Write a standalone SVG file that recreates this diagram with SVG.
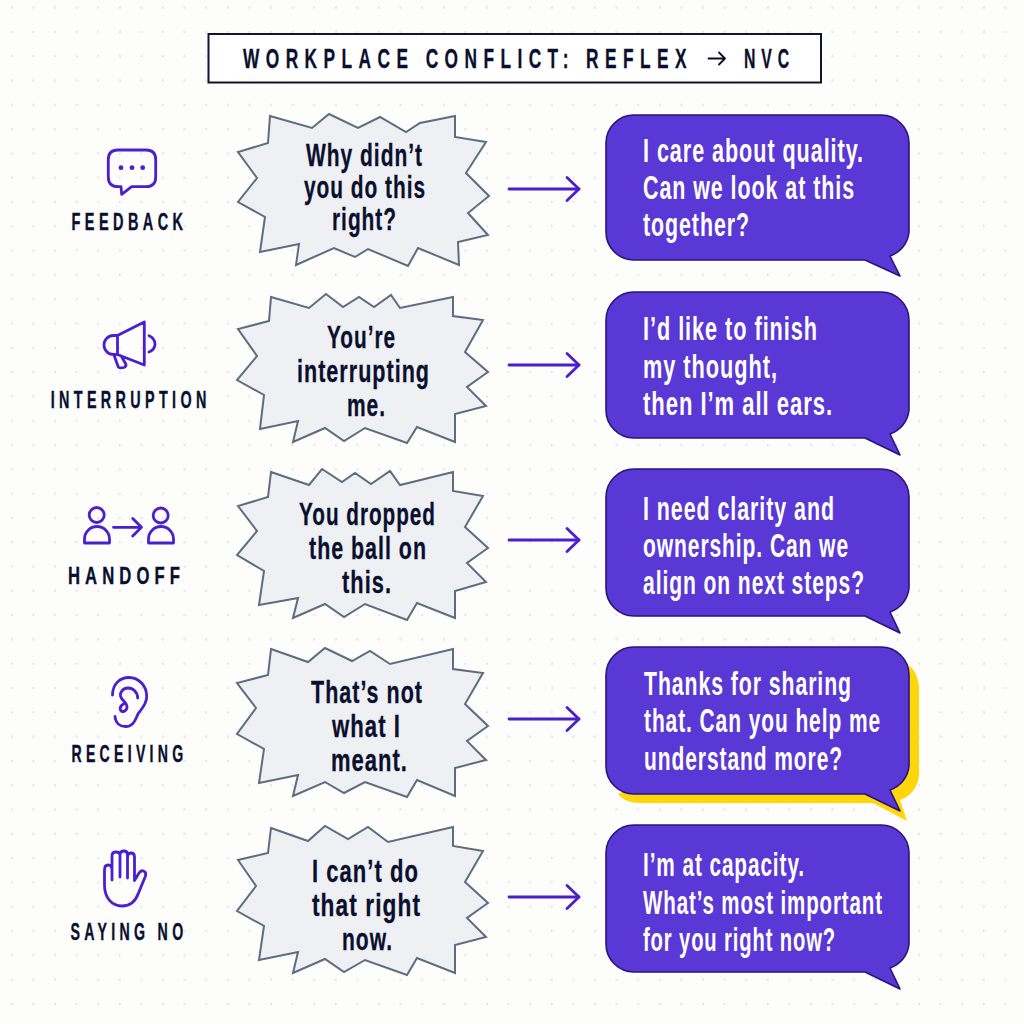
<svg xmlns="http://www.w3.org/2000/svg" width="1024" height="1024" viewBox="0 0 1024 1024">
<style>
text{font-family:"Liberation Sans Narrow","Liberation Sans",Arial,sans-serif;font-weight:700}
.burst{fill:#eef0f4;stroke:#5f6b80;stroke-width:2;stroke-linejoin:miter}
.bt{font-size:32px;fill:#0b0f2e;letter-spacing:1.5px;stroke:#0b0f2e;stroke-width:.3}
.bubble{fill:#5a38d6;stroke:#27147a;stroke-width:1.6;stroke-linejoin:round}
.shadow{fill:#ffd60a}
.st{font-size:34px;fill:#fff;letter-spacing:1.5px}
.lab{font-size:23px;fill:#0b0f2e;letter-spacing:7px;stroke:#0b0f2e;stroke-width:.35}
.tt{font-size:27px;fill:#0b0f2e;letter-spacing:10px;stroke:#0b0f2e;stroke-width:.3}
.ic{fill:none;stroke:#4a1fd0;stroke-width:2.8;stroke-linecap:round;stroke-linejoin:round}
.arr{fill:none;stroke:#4a1fd0;stroke-width:2.8;stroke-linecap:round;marker-end:url(#head)}
</style>
<defs>
<pattern id="dots" x="11.8" y="7.6" width="21.6" height="24.3" patternUnits="userSpaceOnUse"><circle cx="0" cy="0" r="1.2" fill="#e6e6ec"/><circle cx="21.6" cy="0" r="1.2" fill="#e6e6ec"/><circle cx="0" cy="24.3" r="1.2" fill="#e6e6ec"/><circle cx="21.6" cy="24.3" r="1.2" fill="#e6e6ec"/></pattern>
<marker id="head" markerUnits="userSpaceOnUse" markerWidth="18" markerHeight="30" refX="14" refY="14" orient="auto" overflow="visible"><path d="M2 2.500 L14 14 L2 25.500" fill="none" stroke="#4a1fd0" stroke-width="2.8" stroke-linecap="round" stroke-linejoin="round"/></marker>
</defs>
<rect width="1024" height="1024" fill="#fdfdfc"/>
<rect width="1024" height="1024" fill="url(#dots)"/>
<g id="title">
<rect x="208.500" y="34" width="612.500" height="48.500" fill="#fff" stroke="#12142e" stroke-width="2"/>
<text class="tt" x="243" y="68" textLength="450" lengthAdjust="spacingAndGlyphs">WORKPLACE CONFLICT: REFLEX</text>
<path d="M708.500 58.500H725M719 52.500L725 58.500L719 64.500" fill="none" stroke="#0b0f2e" stroke-width="1.800" stroke-linecap="round" stroke-linejoin="round"/>
<text class="tt" x="744" y="68" textLength="51" lengthAdjust="spacingAndGlyphs">NVC</text>
</g>
<g id="connectors">
<path class="arr" d="M509 189H579"/>
<path class="arr" d="M509 365H579"/>
<path class="arr" d="M509 540H579"/>
<path class="arr" d="M509 719H579"/>
<path class="arr" d="M509 897H579"/>
</g>
<g id="row-feedback-label">
<path class="ic" d="M118 150H146Q155.700 150 155.700 159.500V177Q155.700 186.700 146 186.700H131.700L121.700 194.300L121 186.700H118Q108.300 186.700 108.300 177V159.500Q108.300 150 118 150Z"/>
<circle cx="121" cy="167.700" r="2.400" fill="#4a1fd0"/><circle cx="132" cy="167.700" r="2.400" fill="#4a1fd0"/><circle cx="142.700" cy="167.700" r="2.400" fill="#4a1fd0"/>
<text class="lab" x="71.500" y="230" textLength="116" lengthAdjust="spacingAndGlyphs">FEEDBACK</text>
</g>
<g id="row-interruption-label">
<path class="ic" d="M144.300 322L117.500 335.500H113.500A9.300 9.300 0 0 0 113.500 354.500H117.500L144.300 365ZM117.500 335.500V354.500M114 355L118.300 367Q120 368.500 124 367.500Q126.500 366.500 125.800 364L121.500 356.500M149 335.700Q155 338.500 155 344Q155 349.500 149 352"/>
<text class="lab" x="50.700" y="408" textLength="160" lengthAdjust="spacingAndGlyphs">INTERRUPTION</text>
</g>
<g id="row-handoff-label">
<circle class="ic" cx="96.700" cy="515" r="7.500"/>
<path class="ic" d="M84.500 543V539A12.500 12.500 0 0 1 109.500 539V543Z"/>
<path class="ic" d="M113.500 527.300H141.500M132.700 518.500L141.500 527.300L132.700 536"/>
<circle class="ic" cx="160.700" cy="515.500" r="7.500"/>
<path class="ic" d="M148.500 543V539A12.500 12.500 0 0 1 173.500 539V543Z"/>
<text class="lab" x="68" y="584" textLength="117" lengthAdjust="spacingAndGlyphs">HANDOFF</text>
</g>
<g id="row-receiving-label">
<path class="ic" d="M112.500 695C112.500 684 120 677.500 129 677.500C139 677.500 146.700 686 146.700 696.500C146.700 705 141 709 138 714C135.500 719 134 726.500 125.500 726.500C120 726.500 115.500 723 115 716.500"/>
<path class="ic" d="M137.700 698C137.500 692 133 688 128 688C123 688 120 692 120.500 696C121 700 127 702 127 707C127 711 122 713 120.500 710C119 707 122.500 704 125.500 703"/>
<text class="lab" x="71.500" y="762" textLength="116" lengthAdjust="spacingAndGlyphs">RECEIVING</text>
</g>
<g id="row-saying-no-label">
<path class="ic" d="M112 880V870Q112 865 108.300 865Q104.500 865 104.500 870V885C104.500 898 112 906 122 906C131 906 136 900 138.500 893L145.500 876Q146.500 872 143.500 871Q141 870 139 873L134.500 880.500V857Q134.500 853 131 853Q127.500 853 127.500 857V878M127.500 857V855Q127.500 851 124 851Q120 851 120 855V877M120 855Q120 852 116 852Q112 852 112 856V870"/>
<text class="lab" x="70.500" y="940" textLength="117" lengthAdjust="spacingAndGlyphs">SAYING NO</text>
</g>
<g id="reflex-feedback">
<path class="burst" d="M270 116L312 128L329 114L358 128L380 117L406 132L420 123L455 116L455 137L486 142L466 173L489 196L468 213L488 235L458 242L459 265L418 248L408 266L368 249L355 257L334 248L296 265L299 244L260 252L265 217L238 202L257 178L238 152L268 143Z"/>
<text class="bt" x="306" y="166" textLength="117" lengthAdjust="spacingAndGlyphs">Why didn’t</text>
<text class="bt" x="304" y="198" textLength="122" lengthAdjust="spacingAndGlyphs">you do this</text>
<text class="bt" x="332" y="230" textLength="65" lengthAdjust="spacingAndGlyphs">right?</text>
</g>
<g id="reflex-interruption">
<path class="burst" d="M271 297L309 308L326 294L343 307L359 297L374 307L391 295L400 308L453 297L453 316L483 320L465 352L488 372L467 387L486 406L455 414L455 442L417 427L407 443L365 428L344 441L325 428L293 442L298 421L260 429L264 395L237 380L257 356L238 329L269 321Z"/>
<text class="bt" x="327" y="348" textLength="69" lengthAdjust="spacingAndGlyphs">You’re</text>
<text class="bt" x="297" y="382" textLength="133" lengthAdjust="spacingAndGlyphs">interrupting</text>
<text class="bt" x="347" y="416" textLength="39" lengthAdjust="spacingAndGlyphs">me.</text>
</g>
<g id="reflex-handoff">
<path class="burst" d="M271 472L309 485L322 469L342 482L355 473L371 484L390 471L400 485L453 472L453 491L483 496L465 527L488 548L467 563L486 582L455 591L455 618L417 603L407 620L365 604L344 617L325 604L293 618L298 598L259 605L264 571L237 555L257 531L238 506L268 497Z"/>
<text class="bt" x="299" y="525" textLength="137" lengthAdjust="spacingAndGlyphs">You dropped</text>
<text class="bt" x="309" y="559" textLength="118" lengthAdjust="spacingAndGlyphs">the ball on</text>
<text class="bt" x="342" y="593" textLength="50" lengthAdjust="spacingAndGlyphs">this.</text>
</g>
<g id="reflex-receiving">
<path class="burst" d="M271 649L308 662L325 648L352 661L370 651L390 664L453 649L453 669L483 673L465 704L488 726L467 741L486 760L455 768L455 796L417 780L407 797L365 782L344 793L325 782L293 796L298 775L259 783L264 749L237 734L256 708L237 683L268 675Z"/>
<text class="bt" x="311" y="703" textLength="112" lengthAdjust="spacingAndGlyphs">That’s not</text>
<text class="bt" x="332" y="737" textLength="69" lengthAdjust="spacingAndGlyphs">what I</text>
<text class="bt" x="331" y="771" textLength="77" lengthAdjust="spacingAndGlyphs">meant.</text>
</g>
<g id="reflex-saying-no">
<path class="burst" d="M271 828L308 841L325 826L348 839L368 827L388 842L453 827L453 846L483 851L465 882L488 903L467 918L486 937L455 945L455 973L417 958L407 975L365 960L344 972L325 959L293 973L298 952L259 960L264 926L237 911L256 886L238 860L268 853Z"/>
<text class="bt" x="312" y="882" textLength="107" lengthAdjust="spacingAndGlyphs">I can’t do</text>
<text class="bt" x="312" y="916" textLength="109" lengthAdjust="spacingAndGlyphs">that right</text>
<text class="bt" x="342" y="950" textLength="51" lengthAdjust="spacingAndGlyphs">now.</text>
</g>
<g id="nvc-feedback">
<path class="bubble" d="M634 115H881A28 28 0 0 1 909 143V232A28 28 0 0 1 890 256L900 276L865 260H634A28 28 0 0 1 606 232V143A28 28 0 0 1 634 115Z"/>
<text class="st" x="643" y="162" textLength="221" lengthAdjust="spacingAndGlyphs">I care about quality.</text>
<text class="st" x="643" y="199" textLength="212" lengthAdjust="spacingAndGlyphs">Can we look at this</text>
<text class="st" x="643" y="236" textLength="107" lengthAdjust="spacingAndGlyphs">together?</text>
</g>
<g id="nvc-interruption">
<path class="bubble" d="M634 292H881A28 28 0 0 1 909 320V410A28 28 0 0 1 890 434L900 455L865 438H634A28 28 0 0 1 606 410V320A28 28 0 0 1 634 292Z"/>
<text class="st" x="643" y="340" textLength="175" lengthAdjust="spacingAndGlyphs">I’d like to finish</text>
<text class="st" x="643" y="378" textLength="135" lengthAdjust="spacingAndGlyphs">my thought,</text>
<text class="st" x="643" y="415" textLength="190" lengthAdjust="spacingAndGlyphs">then I’m all ears.</text>
</g>
<g id="nvc-handoff">
<path class="bubble" d="M634 469H881A28 28 0 0 1 909 497V588A28 28 0 0 1 890 612L900 633L865 616H634A28 28 0 0 1 606 588V497A28 28 0 0 1 634 469Z"/>
<text class="st" x="643" y="520" textLength="192" lengthAdjust="spacingAndGlyphs">I need clarity and</text>
<text class="st" x="643" y="557" textLength="206" lengthAdjust="spacingAndGlyphs">ownership. Can we</text>
<text class="st" x="643" y="594" textLength="222" lengthAdjust="spacingAndGlyphs">align on next steps?</text>
</g>
<g id="nvc-receiving">
<path class="shadow" d="M905 663Q919 670 919 690V775A28 28 0 0 1 900 800L907 821L873 803H640Q625 803 618 794Z"/>
<path class="bubble" d="M634 647H881A28 28 0 0 1 909 675V766A28 28 0 0 1 890 790L900 811L865 794H634A28 28 0 0 1 606 766V675A28 28 0 0 1 634 647Z"/>
<text class="st" x="644" y="695" textLength="208" lengthAdjust="spacingAndGlyphs">Thanks for sharing</text>
<text class="st" x="644" y="732" textLength="237" lengthAdjust="spacingAndGlyphs">that. Can you help me</text>
<text class="st" x="644" y="770" textLength="199" lengthAdjust="spacingAndGlyphs">understand more?</text>
</g>
<g id="nvc-saying-no">
<path class="bubble" d="M634 825H881A28 28 0 0 1 909 853V944A28 28 0 0 1 890 968L900 989L865 972H634A28 28 0 0 1 606 944V853A28 28 0 0 1 634 825Z"/>
<text class="st" x="643" y="876" textLength="162" lengthAdjust="spacingAndGlyphs">I’m at capacity.</text>
<text class="st" x="643" y="914" textLength="240" lengthAdjust="spacingAndGlyphs">What’s most important</text>
<text class="st" x="643" y="951" textLength="193" lengthAdjust="spacingAndGlyphs">for you right now?</text>
</g>
</svg>
